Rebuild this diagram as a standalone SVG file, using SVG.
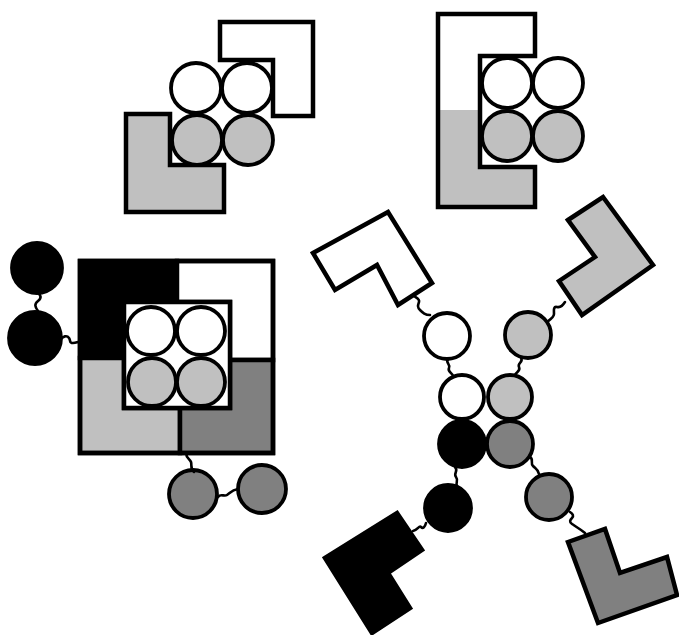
<svg xmlns="http://www.w3.org/2000/svg" width="679" height="635" viewBox="0 0 679 635">
<style>
.o{stroke:#000;stroke-width:4.5;stroke-linejoin:miter}
.c{stroke:#000;stroke-width:3.8}
.w{fill:#fff}.g{fill:#c0c0c0}.d{fill:#808080}.k{fill:#000}
.n{fill:none;stroke:#000;stroke-width:4.5;stroke-linejoin:miter}
.wire{fill:none;stroke:#000;stroke-width:2.6;stroke-linecap:round}
</style>
<rect width="679" height="635" fill="#fff"/>

<g id="complex-top-left">
  <polygon class="o w" points="220,22 313,22 313,116 273,116 273,60 220,60"/>
  <polygon class="o g" points="126,114 170,114 170,165 224,165 224,212 126,212"/>
  <circle class="c w" cx="196" cy="88" r="25"/>
  <circle class="c w" cx="247" cy="88" r="25"/>
  <circle class="c g" cx="197" cy="140" r="25"/>
  <circle class="c g" cx="248" cy="140" r="25"/>
</g>

<g id="complex-top-right">
  <polygon class="w" points="438,14 535,14 535,56 480,56 480,110 438,110"/>
  <polygon class="g" points="438,110 480,110 480,167 535,167 535,207 438,207"/>
  <path class="n" d="M438,14 H535 V56 H480 V167 H535 V207 H438 Z"/>
  <circle class="c w" cx="507" cy="83" r="25"/>
  <circle class="c w" cx="558" cy="83" r="25"/>
  <circle class="c g" cx="507" cy="136" r="25"/>
  <circle class="c g" cx="558" cy="136" r="25"/>
</g>

<g id="complex-square">
  <polygon class="o k" points="80,261 177,261 177,302 124,302 124,358 80,358"/>
  <polygon class="o w" points="177,261 273,261 273,360 230,360 230,302 177,302"/>
  <polygon class="o g" points="80,358 124,358 124,408 180,408 180,453 80,453"/>
  <polygon class="o d" points="230,360 273,360 273,453 180,453 180,408 230,408"/>
  <rect class="n" x="80" y="261" width="193" height="192"/>
  <rect class="o w" x="124" y="302" width="106" height="106"/>
  <circle class="c w" cx="151" cy="331" r="24"/>
  <circle class="c w" cx="201" cy="331" r="24"/>
  <circle class="c g" cx="152" cy="382" r="24"/>
  <circle class="c g" cx="201" cy="382" r="24"/>
</g>

<g id="black-pair-left">
  <circle class="c k" cx="37" cy="268" r="25"/>
  <circle class="c k" cx="35" cy="338" r="26"/>
</g>

<g id="darkgray-pair-bottom">
  <circle class="c d" cx="193" cy="494" r="24"/>
  <circle class="c d" cx="262" cy="489" r="24"/>
</g>

<g id="white-arm">
  <polygon class="o w" points="313,253 388,212 432,283 398,305 377,265 335,290"/>
  <circle class="c w" cx="447" cy="336" r="23"/>
  <circle class="c w" cx="462" cy="397" r="22"/>
</g>

<g id="lightgray-arm">
  <polygon class="o g" points="568,220 603,197 653,265 582,315 559,281 595,257"/>
  <circle class="c g" cx="528" cy="335" r="23"/>
  <circle class="c g" cx="510" cy="397" r="22"/>
</g>

<g id="black-arm">
  <polygon class="o k" points="325,558 397,513 422,550 388,573 410,608 372,633"/>
  <circle class="c k" cx="462" cy="444" r="23"/>
  <circle class="c k" cx="448" cy="508" r="23"/>
</g>

<g id="darkgray-arm">
  <polygon class="o d" points="568,542 605,529 620,573 667,557 677,595 598,623"/>
  <circle class="c d" cx="510" cy="444" r="23"/>
  <circle class="c d" cx="549" cy="497" r="23"/>
</g>

<g id="connectors">
  <path class="wire" d="M37,292 c4,3 5,6 1,9 s-3,6 0,10"/>
  <path class="wire" d="M60,340 c3,-4 7,-5 9,-2 s0,5 4,5 s5,-2 8,-1"/>
  <path class="wire" d="M186,453 c0,5 4,6 5,9 s-1,7 3,10"/>
  <path class="wire" d="M218,497 c3,-4 6,0 9,-2 s5,-5 11,-6"/>
  <path class="wire" d="M414,296 c3,2 6,3 5,6 s-2,5 1,8 s5,5 10,5"/>
  <path class="wire" d="M565,302 c-2,3 -4,6 -8,5 s-3,4 -3,7 s-3,5 -7,8"/>
  <path class="wire" d="M448,359 c-3,4 3,5 1,9 s4,5 4,8"/>
  <path class="wire" d="M521,358 c3,4 -4,5 -2,9 s-3,5 -4,8"/>
  <path class="wire" d="M455,467 c4,4 -2,6 1,10 s-1,6 1,9"/>
  <path class="wire" d="M530,457 c4,2 0,6 3,9 s5,3 6,8"/>
  <path class="wire" d="M426,523 c-1,4 -3,6 -5,4 s-3,3 -8,4"/>
  <path class="wire" d="M570,512 c3,2 4,4 2,6 s-3,4 0,6 s8,5 13,9"/>
</g>
</svg>
